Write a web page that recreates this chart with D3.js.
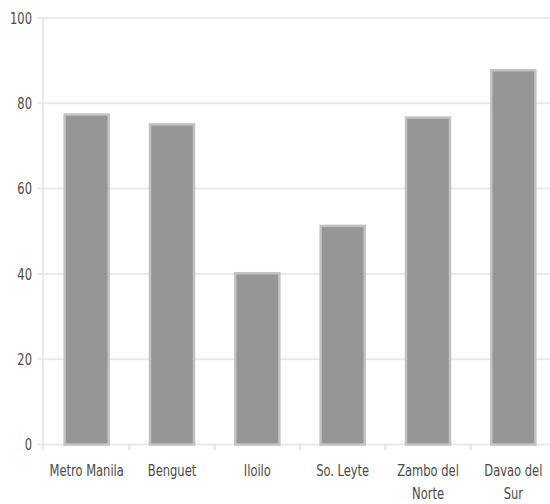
<!DOCTYPE html>
<html><head><meta charset="utf-8">
<script src="https://cdn.jsdelivr.net/npm/d3@7"></script>
<style>body{margin:0;background:#fff;}svg{display:block;}</style>
</head><body>
<svg id="c" width="550" height="504"></svg>
<script>
const categories = ["Metro Manila", "Benguet", "Iloilo", "So. Leyte", "Zambo del Norte", "Davao del Sur"];
const labelLines = [["Metro Manila"], ["Benguet"], ["Iloilo"], ["So. Leyte"], ["Zambo del", "Norte"], ["Davao del", "Sur"]];
const values = [77.6, 75.3, 40.4, 51.5, 76.9, 88.0];
const yTicks = [0, 20, 40, 60, 80, 100];

const svg = d3.select("#c");
const font = "'DejaVu Sans Condensed', 'Liberation Sans', sans-serif";
const fs = 16, sx = 0.8;
const x = d3.scaleBand().domain(categories).range([44, 556]).paddingInner(0.46).paddingOuter(0.23);
const y = d3.scaleLinear().domain([0, 100]).range([444.5, 18]);
const step = x.step();
const gap = (step - x.bandwidth()) / 2;

// gridlines
svg.append("g").selectAll("line").data(yTicks).join("line")
  .attr("x1", 37).attr("x2", 550)
  .attr("y1", d => y(d)).attr("y2", d => y(d))
  .attr("stroke", "#e9e9e9").attr("stroke-width", 2);

// left axis line
svg.append("line").attr("x1", 43).attr("x2", 43).attr("y1", 18).attr("y2", 450)
  .attr("stroke", "#e9e9e9").attr("stroke-width", 2);

// bottom ticks at band boundaries
svg.append("g").selectAll("line").data(categories.slice(1)).join("line")
  .attr("x1", d => x(d) - gap).attr("x2", d => x(d) - gap)
  .attr("y1", 444).attr("y2", 450)
  .attr("stroke", "#e4e4e4").attr("stroke-width", 2);

// bars
svg.append("g").selectAll("rect").data(values).join("rect")
  .attr("x", (d, i) => x(categories[i]) + 1)
  .attr("width", x.bandwidth() - 2)
  .attr("y", d => y(d) + 1)
  .attr("height", d => y(0) - y(d) - 1)
  .attr("fill", "#969696").attr("stroke", "#c2c2c2").attr("stroke-width", 2.5);

// y labels
svg.append("g").selectAll("text").data(yTicks).join("text")
  .attr("transform", d => `translate(32,${y(d)}) scale(${sx},1)`)
  .attr("dy", "0.36em")
  .attr("text-anchor", "end")
  .attr("font-family", font).attr("font-size", fs).attr("fill", "#4a4a4a")
  .text(d => d);

// x labels
const xl = svg.append("g").selectAll("text").data(categories).join("text")
  .attr("transform", d => `translate(${x(d) + x.bandwidth()/2},476) scale(${sx},1)`)
  .attr("text-anchor", "middle")
  .attr("font-family", font).attr("font-size", fs).attr("fill", "#4a4a4a");
xl.each(function(d, i) {
  const t = d3.select(this);
  labelLines[i].forEach((ln, k) => {
    t.append("tspan").attr("x", 0).attr("dy", k ? 23 : 0).text(ln);
  });
});
</script>
</body></html>
